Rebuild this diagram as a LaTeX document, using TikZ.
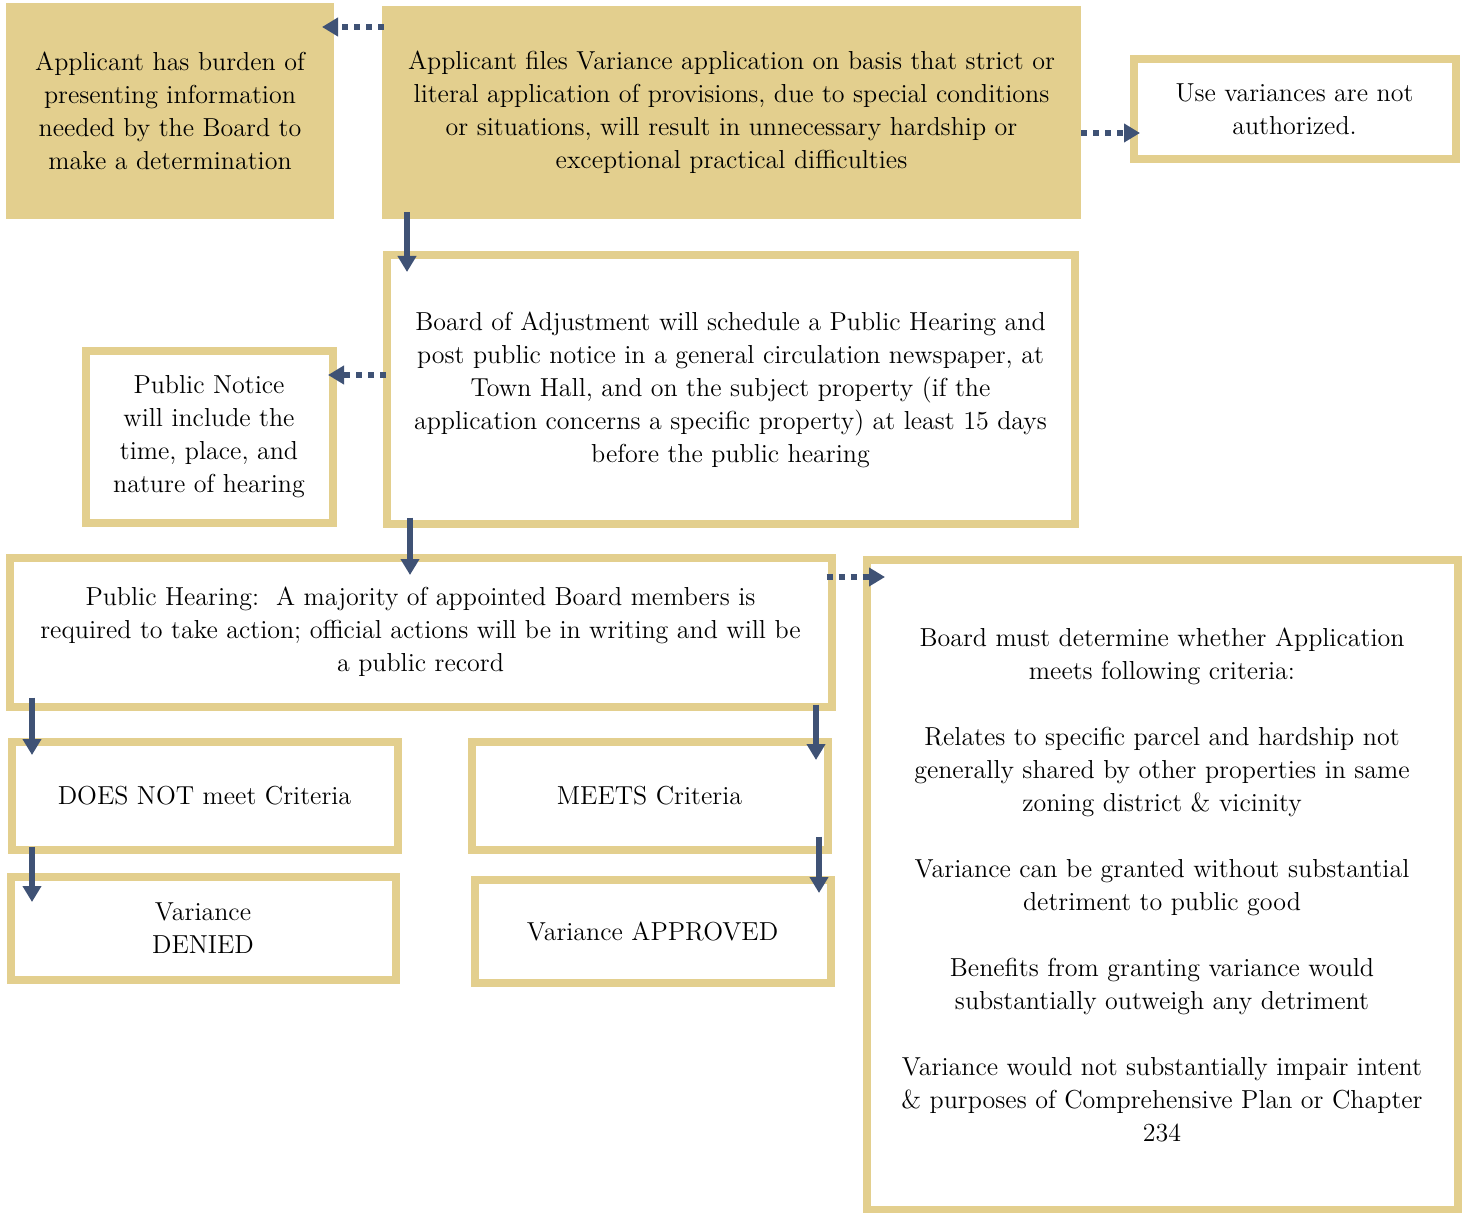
\documentclass[tikz,border=0pt]{standalone}
\usepackage{tikz}
\usetikzlibrary{arrows.meta, positioning, calc}

\definecolor{gold}{HTML}{E3CF8E}
\definecolor{navy}{HTML}{3F5275}

\tikzset{
  txt/.style={align=center, inner sep=0pt, font=\fontsize{13}{16.5}\selectfont},
  goldfill/.style={txt, fill=gold, minimum width=#1},
  goldbox/.style={txt, draw=gold, line width=4pt, minimum width=#1},
  flow/.style={navy, line width=3pt, -{Triangle[width=9pt,length=8pt]}},
  flowdot/.style={flow, dash pattern=on 3pt off 3pt}
}

\begin{document}
\begin{tikzpicture}[x=0.5pt, y=-0.5pt]
  \useasboundingbox (0,0) rectangle (1465,1213);

  % top row
  \node[goldfill=164pt, minimum height=108pt] (burden) at (170,111)
    {Applicant has burden of\\presenting information\\needed by the Board to\\make a determination};
  \node[goldfill=349.5pt, minimum height=106.5pt] (files) at (731.5,112.5)
    {Applicant files Variance application on basis that strict or\\literal application of provisions, due to special conditions\\or situations, will result in unnecessary hardship or\\exceptional practical difficulties};
  \node[goldbox=161pt, minimum height=50pt] (usevar) at (1294.5,109.5)
    {Use variances are not\\authorized.};

  % hearing notice
  \node[goldbox=344pt, minimum height=134pt] (schedule) at (730.5,389.5)
    {Board of Adjustment will schedule a Public Hearing and\\post public notice in a general circulation newspaper, at\\Town Hall, and on the subject property (if the\\application concerns a specific property) at least 15 days\\before the public hearing};
  \node[goldbox=123.5pt, minimum height=85.5pt] (notice) at (209,437)
    {Public Notice\\will include the\\time, place, and\\nature of hearing};

  % hearing and criteria
  \node[goldbox=411pt, minimum height=74.5pt] (hearing) at (420.5,632)
    {Public Hearing:\ \ A majority of appointed Board members is\\required to take action; official actions will be in writing and will be\\a public record};
  \node[goldbox=295.5pt, minimum height=325pt] (criteria) at (1162,884.5)
    {Board must determine whether Application\\meets following criteria:\\[16.5pt]
     Relates to specific parcel and hardship not\\generally shared by other properties in same\\zoning district \& vicinity\\[16.5pt]
     Variance can be granted without substantial\\detriment to public good\\[16.5pt]
     Benefits from granting variance would\\substantially outweigh any detriment\\[16.5pt]
     Variance would not substantially impair intent\\\& purposes of Comprehensive Plan or Chapter\\234};

  % outcomes
  \node[goldbox=193pt, minimum height=54pt] (notmeet) at (204.5,795.5) {DOES NOT meet Criteria};
  \node[goldbox=178pt, minimum height=54pt] (meets) at (649.5,795.5) {MEETS Criteria};
  \node[goldbox=192.5pt, minimum height=51.5pt] (denied) at (203,928) {Variance\\DENIED};
  \node[goldbox=178pt, minimum height=51.5pt] (approved) at (652.5,931) {Variance APPROVED};

  % arrow tips
  \coordinate (t1) at (322,27);
  \coordinate (t2) at (1140,133);
  \coordinate (t3) at (407,272);
  \coordinate (t4) at (328,375);
  \coordinate (t5) at (410,575);
  \coordinate (t6) at (885,577);
  \coordinate (t7) at (32,755);
  \coordinate (t8) at (816,760);
  \coordinate (t9) at (32,902);
  \coordinate (t10) at (819,893);

  \draw[flowdot] ([xshift=1pt]files.west |- t1) -- (t1);
  \draw[flowdot] (files.east |- t2) -- (t2);
  \draw[flow] ([yshift=3.5pt]files.south -| t3) -- (t3);
  \draw[flowdot] ([xshift=1.5pt]schedule.west |- t4) -- (t4);
  \draw[flow] ([yshift=5pt]schedule.south -| t5) -- (t5);
  \draw[flowdot] ([xshift=-4.5pt]hearing.east |- t6) -- (t6);
  \draw[flow] ([yshift=6.5pt]hearing.south -| t7) -- (t7);
  \draw[flow] ([yshift=3pt]hearing.south -| t8) -- (t8);
  \draw[flow] ([yshift=3.5pt]notmeet.south -| t9) -- (t9);
  \draw[flow] ([yshift=8.5pt]meets.south -| t10) -- (t10);
\end{tikzpicture}
\end{document}
